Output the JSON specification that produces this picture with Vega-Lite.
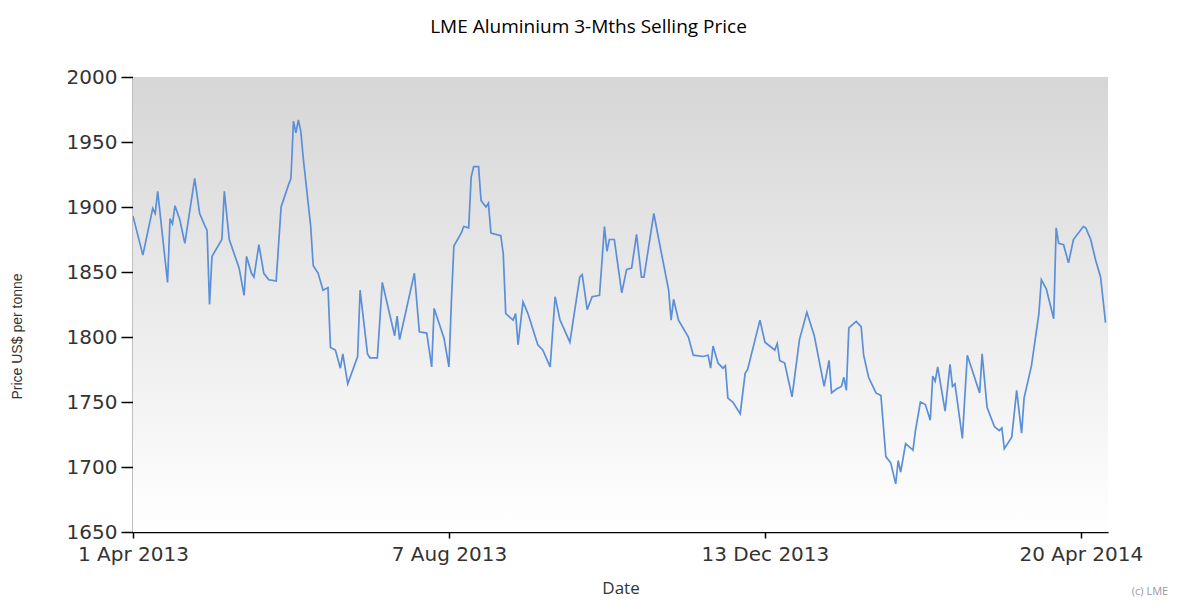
{
  "$schema": "https://vega.github.io/schema/vega-lite/v6.json",
  "width": 975,
  "height": 455,
  "autosize": {"type": "none"},
  "padding": {"left": 133, "top": 77, "right": 69, "bottom": 76},
  "background": "white",
  "title": {
    "text": "LME Aluminium 3-Mths Selling Price",
    "font": "Open Sans",
    "fontSize": 19,
    "fontWeight": "normal",
    "color": "#000000",
    "anchor": "middle",
    "frame": "group",
    "dx": -32,
    "offset": 30
  },
  "config": {
    "view": {"stroke": null},
    "axis": {"grid": false, "domainColor": "#000000", "tickColor": "#000000", "domainWidth": 1.5, "tickWidth": 1.5}
  },
  "data": {
    "values": [
      {"d": "2013-04-01", "p": 1893}, {"d": "2013-04-05", "p": 1863}, {"d": "2013-04-09", "p": 1899}, {"d": "2013-04-10", "p": 1895},
      {"d": "2013-04-11", "p": 1912}, {"d": "2013-04-15", "p": 1842}, {"d": "2013-04-16", "p": 1891}, {"d": "2013-04-17", "p": 1887},
      {"d": "2013-04-18", "p": 1901}, {"d": "2013-04-20", "p": 1890}, {"d": "2013-04-22", "p": 1872}, {"d": "2013-04-26", "p": 1922},
      {"d": "2013-04-28", "p": 1895}, {"d": "2013-04-30", "p": 1886}, {"d": "2013-05-01", "p": 1882}, {"d": "2013-05-02", "p": 1825},
      {"d": "2013-05-03", "p": 1862}, {"d": "2013-05-07", "p": 1875}, {"d": "2013-05-08", "p": 1912}, {"d": "2013-05-10", "p": 1875},
      {"d": "2013-05-14", "p": 1853}, {"d": "2013-05-16", "p": 1832}, {"d": "2013-05-17", "p": 1862}, {"d": "2013-05-19", "p": 1849},
      {"d": "2013-05-20", "p": 1846}, {"d": "2013-05-22", "p": 1871}, {"d": "2013-05-24", "p": 1849}, {"d": "2013-05-26", "p": 1844},
      {"d": "2013-05-29", "p": 1843}, {"d": "2013-05-31", "p": 1900}, {"d": "2013-06-03", "p": 1917}, {"d": "2013-06-04", "p": 1922},
      {"d": "2013-06-05", "p": 1966}, {"d": "2013-06-06", "p": 1957}, {"d": "2013-06-07", "p": 1967}, {"d": "2013-06-08", "p": 1958},
      {"d": "2013-06-09", "p": 1937}, {"d": "2013-06-12", "p": 1885}, {"d": "2013-06-13", "p": 1855}, {"d": "2013-06-15", "p": 1849},
      {"d": "2013-06-17", "p": 1836}, {"d": "2013-06-19", "p": 1838}, {"d": "2013-06-20", "p": 1792}, {"d": "2013-06-22", "p": 1790},
      {"d": "2013-06-24", "p": 1776}, {"d": "2013-06-25", "p": 1787}, {"d": "2013-06-27", "p": 1764}, {"d": "2013-07-01", "p": 1785},
      {"d": "2013-07-02", "p": 1836}, {"d": "2013-07-05", "p": 1787}, {"d": "2013-07-06", "p": 1784}, {"d": "2013-07-09", "p": 1784},
      {"d": "2013-07-11", "p": 1842}, {"d": "2013-07-16", "p": 1801}, {"d": "2013-07-17", "p": 1816}, {"d": "2013-07-18", "p": 1798},
      {"d": "2013-07-24", "p": 1849}, {"d": "2013-07-26", "p": 1804}, {"d": "2013-07-29", "p": 1803}, {"d": "2013-07-31", "p": 1777},
      {"d": "2013-08-01", "p": 1822}, {"d": "2013-08-05", "p": 1799}, {"d": "2013-08-07", "p": 1777}, {"d": "2013-08-08", "p": 1828},
      {"d": "2013-08-09", "p": 1870}, {"d": "2013-08-12", "p": 1880}, {"d": "2013-08-13", "p": 1885}, {"d": "2013-08-15", "p": 1884},
      {"d": "2013-08-16", "p": 1923}, {"d": "2013-08-17", "p": 1931}, {"d": "2013-08-19", "p": 1931}, {"d": "2013-08-20", "p": 1905},
      {"d": "2013-08-22", "p": 1900}, {"d": "2013-08-23", "p": 1903}, {"d": "2013-08-24", "p": 1880}, {"d": "2013-08-28", "p": 1878},
      {"d": "2013-08-29", "p": 1864}, {"d": "2013-08-30", "p": 1818}, {"d": "2013-09-02", "p": 1813}, {"d": "2013-09-03", "p": 1818},
      {"d": "2013-09-04", "p": 1794}, {"d": "2013-09-06", "p": 1827}, {"d": "2013-09-08", "p": 1818}, {"d": "2013-09-12", "p": 1794},
      {"d": "2013-09-14", "p": 1790}, {"d": "2013-09-17", "p": 1777}, {"d": "2013-09-19", "p": 1831}, {"d": "2013-09-21", "p": 1813},
      {"d": "2013-09-25", "p": 1796}, {"d": "2013-09-29", "p": 1846}, {"d": "2013-09-30", "p": 1848}, {"d": "2013-10-02", "p": 1821},
      {"d": "2013-10-04", "p": 1831}, {"d": "2013-10-07", "p": 1832}, {"d": "2013-10-09", "p": 1885}, {"d": "2013-10-10", "p": 1866},
      {"d": "2013-10-11", "p": 1875}, {"d": "2013-10-13", "p": 1875}, {"d": "2013-10-16", "p": 1834}, {"d": "2013-10-18", "p": 1852},
      {"d": "2013-10-20", "p": 1853}, {"d": "2013-10-22", "p": 1879}, {"d": "2013-10-24", "p": 1846}, {"d": "2013-10-25", "p": 1846},
      {"d": "2013-10-29", "p": 1895}, {"d": "2013-10-31", "p": 1875}, {"d": "2013-11-04", "p": 1836}, {"d": "2013-11-05", "p": 1813},
      {"d": "2013-11-06", "p": 1829}, {"d": "2013-11-08", "p": 1813}, {"d": "2013-11-12", "p": 1800}, {"d": "2013-11-14", "p": 1786},
      {"d": "2013-11-18", "p": 1785}, {"d": "2013-11-20", "p": 1786}, {"d": "2013-11-21", "p": 1776}, {"d": "2013-11-22", "p": 1793},
      {"d": "2013-11-24", "p": 1780}, {"d": "2013-11-26", "p": 1776}, {"d": "2013-11-27", "p": 1778}, {"d": "2013-11-28", "p": 1753},
      {"d": "2013-11-30", "p": 1750}, {"d": "2013-12-03", "p": 1741}, {"d": "2013-12-05", "p": 1772}, {"d": "2013-12-06", "p": 1775},
      {"d": "2013-12-11", "p": 1813}, {"d": "2013-12-13", "p": 1796}, {"d": "2013-12-17", "p": 1790}, {"d": "2013-12-18", "p": 1795},
      {"d": "2013-12-19", "p": 1782}, {"d": "2013-12-21", "p": 1780}, {"d": "2013-12-24", "p": 1754}, {"d": "2013-12-27", "p": 1798},
      {"d": "2013-12-30", "p": 1819}, {"d": "2014-01-02", "p": 1801}, {"d": "2014-01-06", "p": 1762}, {"d": "2014-01-08", "p": 1782},
      {"d": "2014-01-09", "p": 1757}, {"d": "2014-01-11", "p": 1760}, {"d": "2014-01-13", "p": 1762}, {"d": "2014-01-14", "p": 1769},
      {"d": "2014-01-15", "p": 1759}, {"d": "2014-01-16", "p": 1807}, {"d": "2014-01-19", "p": 1812}, {"d": "2014-01-21", "p": 1808},
      {"d": "2014-01-22", "p": 1786}, {"d": "2014-01-24", "p": 1769}, {"d": "2014-01-27", "p": 1757}, {"d": "2014-01-29", "p": 1755},
      {"d": "2014-01-31", "p": 1708}, {"d": "2014-02-02", "p": 1703}, {"d": "2014-02-04", "p": 1687}, {"d": "2014-02-05", "p": 1705},
      {"d": "2014-02-06", "p": 1696}, {"d": "2014-02-08", "p": 1718}, {"d": "2014-02-11", "p": 1713}, {"d": "2014-02-12", "p": 1728},
      {"d": "2014-02-14", "p": 1750}, {"d": "2014-02-16", "p": 1748}, {"d": "2014-02-18", "p": 1736}, {"d": "2014-02-19", "p": 1770},
      {"d": "2014-02-20", "p": 1766}, {"d": "2014-02-21", "p": 1777}, {"d": "2014-02-24", "p": 1743}, {"d": "2014-02-26", "p": 1779},
      {"d": "2014-02-27", "p": 1762}, {"d": "2014-02-28", "p": 1764}, {"d": "2014-03-03", "p": 1722}, {"d": "2014-03-05", "p": 1786},
      {"d": "2014-03-10", "p": 1757}, {"d": "2014-03-11", "p": 1787}, {"d": "2014-03-13", "p": 1746}, {"d": "2014-03-16", "p": 1731},
      {"d": "2014-03-18", "p": 1728}, {"d": "2014-03-19", "p": 1730}, {"d": "2014-03-20", "p": 1714}, {"d": "2014-03-23", "p": 1723},
      {"d": "2014-03-25", "p": 1759}, {"d": "2014-03-27", "p": 1726}, {"d": "2014-03-28", "p": 1753}, {"d": "2014-03-31", "p": 1778},
      {"d": "2014-04-03", "p": 1818}, {"d": "2014-04-04", "p": 1844}, {"d": "2014-04-06", "p": 1837}, {"d": "2014-04-09", "p": 1814},
      {"d": "2014-04-10", "p": 1884}, {"d": "2014-04-11", "p": 1872}, {"d": "2014-04-13", "p": 1871}, {"d": "2014-04-15", "p": 1857},
      {"d": "2014-04-17", "p": 1875}, {"d": "2014-04-21", "p": 1885}, {"d": "2014-04-22", "p": 1884}, {"d": "2014-04-24", "p": 1875},
      {"d": "2014-04-26", "p": 1859}, {"d": "2014-04-28", "p": 1846}, {"d": "2014-04-30", "p": 1811}
    ]
  },
  "layer": [
    {
      "mark": {
        "type": "rect",
        "color": {
          "gradient": "linear",
          "x1": 0, "y1": 0, "x2": 0, "y2": 1,
          "stops": [
            {"offset": 0, "color": "#d6d6d6"},
            {"offset": 1, "color": "#ffffff"}
          ]
        }
      },
      "encoding": {
        "y": {"datum": 2000, "type": "quantitative"},
        "y2": {"datum": 1650}
      }
    },
    {
      "mark": {"type": "line", "color": "#5b8fd8", "strokeWidth": 1.7, "clip": true},
      "encoding": {
        "x": {
          "field": "d",
          "type": "temporal",
          "scale": {
            "type": "utc",
            "domain": [
              {"year": 2013, "month": 4, "date": 1, "utc": true},
              {"year": 2014, "month": 5, "date": 1, "utc": true}
            ]
          },
          "axis": {
            "title": "Date",
            "titleFont": "Open Sans",
            "titleFontSize": 17,
            "titleFontWeight": "normal",
            "titleColor": "#333333",
            "titlePadding": 16,
            "labelExpr": "utcFormat(datum.value, '%-d %b %Y')",
            "values": [
              {"year": 2013, "month": 4, "date": 1, "utc": true},
              {"year": 2013, "month": 8, "date": 7, "utc": true},
              {"year": 2013, "month": 12, "date": 13, "utc": true},
              {"year": 2014, "month": 4, "date": 20, "utc": true}
            ],
            "labelFont": "DejaVu Sans",
            "labelFontSize": 20,
            "labelColor": "#333333",
            "labelPadding": 6,
            "labelFlush": false,
            "tickSize": 6
          }
        },
        "y": {
          "field": "p",
          "type": "quantitative",
          "scale": {"domain": [1650, 2000], "nice": false, "zero": false},
          "axis": {
            "title": "Price US$ per tonne",
            "titleFont": "Liberation Sans",
            "titleFontSize": 14,
            "titleFontWeight": "normal",
            "titleColor": "#333333",
            "titleX": -116,
            "titleY": 259,
            "titleAlign": "center",
            "titleBaseline": "middle",
            "titleAngle": -90,
            "format": "d",
            "values": [1650, 1700, 1750, 1800, 1850, 1900, 1950, 2000],
            "labelFont": "DejaVu Sans",
            "labelFontSize": 20,
            "labelColor": "#333333",
            "labelPadding": 4,
            "labelFlush": false,
            "tickSize": 12
          }
        }
      }
    },
    {
      "data": {"values": [{"d": "2014-05-18", "p": 1604, "t": "(c) LME"}]},
      "mark": {"type": "text", "font": "Open Sans", "fontSize": 11, "color": "#9a9a9a", "align": "center", "baseline": "middle", "clip": false},
      "encoding": {
        "x": {"field": "d", "type": "temporal"},
        "y": {"field": "p", "type": "quantitative"},
        "text": {"field": "t"}
      }
    }
  ]
}
